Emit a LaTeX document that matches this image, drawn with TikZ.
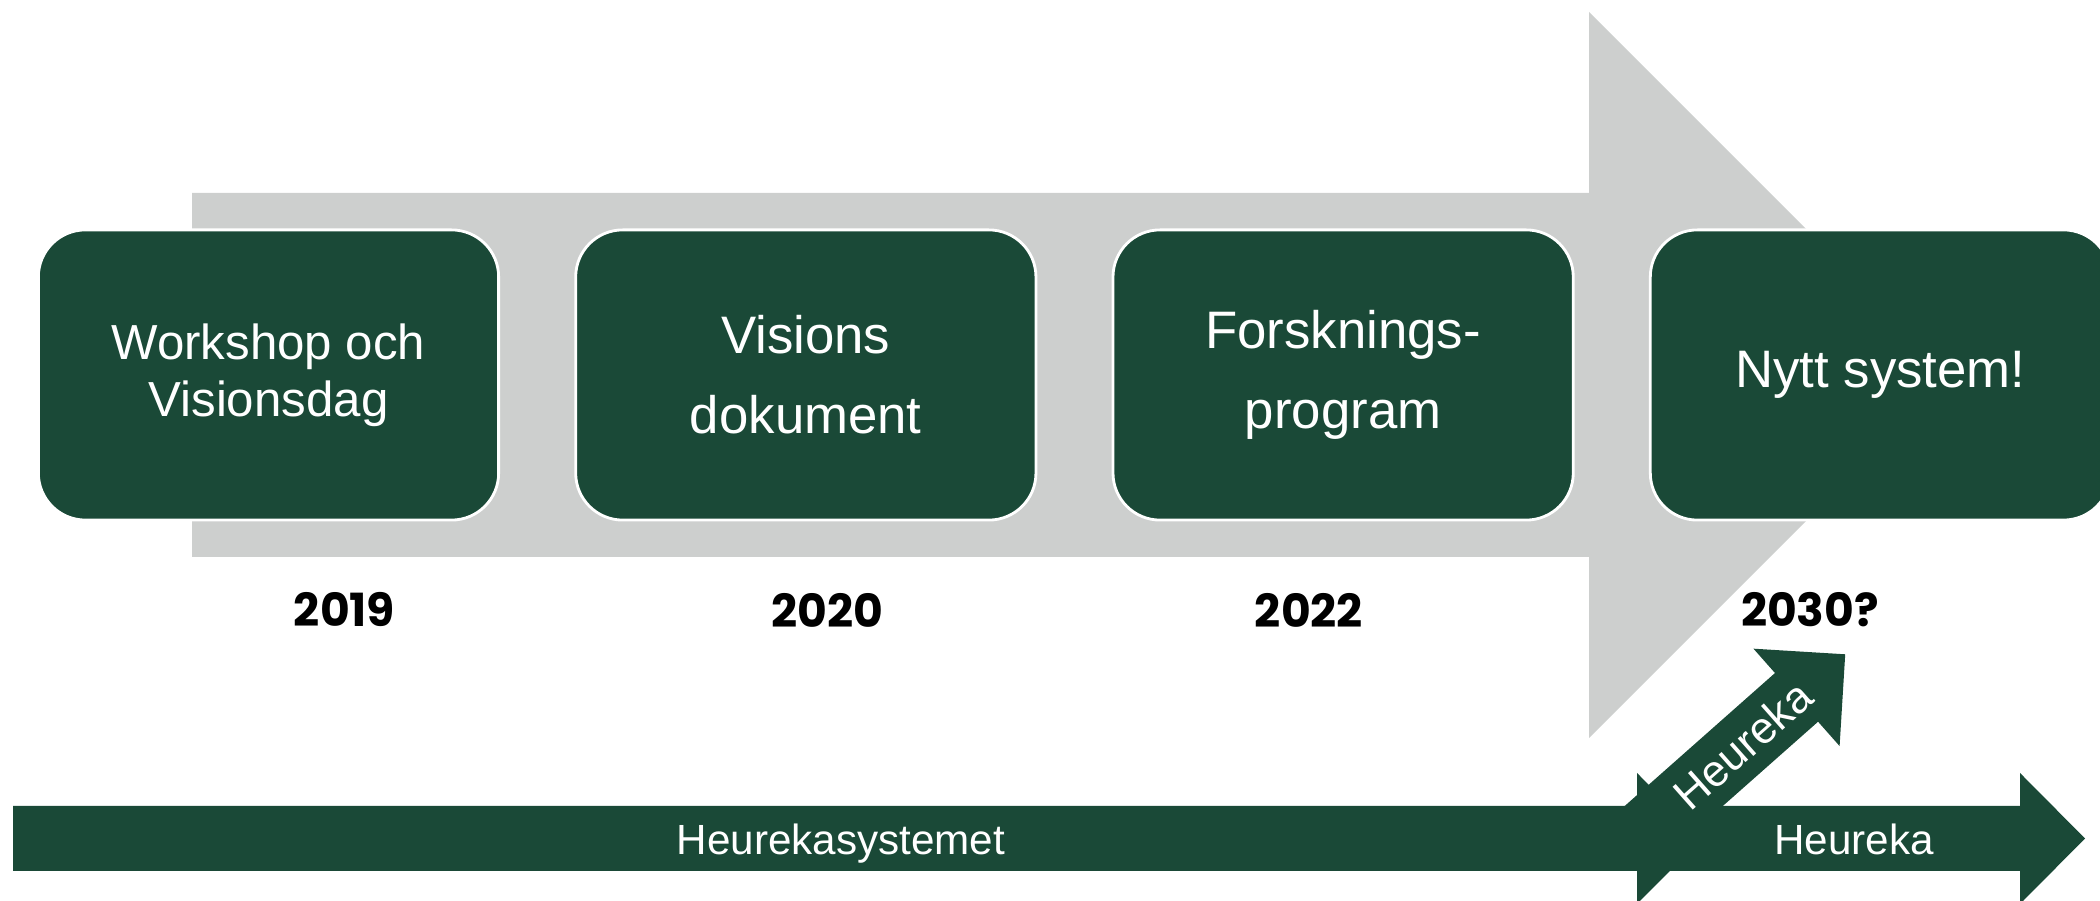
\documentclass[tikz,border=0pt]{standalone}
\usepackage{fontspec}
\setmainfont{Liberation Sans}
\newfontfamily\yearfont{Poppins}
\usetikzlibrary{positioning}
\definecolor{heurekagreen}{RGB}{26,73,55}
\definecolor{arrowgray}{RGB}{205,207,206}

\begin{document}
\begin{tikzpicture}[x=0.01cm,y=-0.01cm,
  stepbox/.style={fill=heurekagreen,draw=white,line width=0.8pt,rounded corners=0.47cm,
    minimum width=4.6cm,minimum height=2.9cm,inner sep=0pt,outer sep=0pt,text=white,align=center,
    font=\fontsize{15}{22.8}\selectfont},
  yearlabel/.style={font=\yearfont\bfseries\fontsize{13}{15}\selectfont},
  barlabel/.style={text=white,anchor=base,font=\fontsize{12}{14}\selectfont}]
% coordinates are pixels of the slide, y goes down
\useasboundingbox (0,0) rectangle (2100,901);
\clip (0,0) rectangle (2100,901);
\fill[arrowgray] (192,193) -- (1589,193) -- (1589,12) -- (1952,375) -- (1589,738)
     -- (1589,557) -- (192,557) -- cycle;

\node[stepbox,font=\fontsize{14}{16.2}\selectfont] (workshop) at (268.5,375) {Workshop och\\Visionsdag};
\node[stepbox,right=0.77cm of workshop] (vision) {Visions\\dokument};
\node[stepbox,right=0.77cm of vision] (research) {Forsknings-\\program};
\node[stepbox,right=0.77cm of research] (newsys) {Nytt system!};

\node[yearlabel] (y2019) at (344.5,610) {2019};
\node[yearlabel] (y2020) at (827,610) {2020};
\node[yearlabel] (y2022) at (1309,610) {2022};
\node[yearlabel] (y2030) at (1810,610) {2030?};

% old system, then the new one going on and going up
\fill[heurekagreen] (13,806) -- (1637,806) -- (1637,773) -- (1702,838.5) -- (1637,904)
     -- (1637,871) -- (13,871) -- cycle;
\fill[heurekagreen] (1637,806) -- (2020,806) -- (2020,773) -- (2085,838.5) -- (2020,904)
     -- (2020,871) -- (1637,871) -- cycle;
\begin{scope}[shift={(1637,838.5)},rotate=41.5]
  \fill[heurekagreen] (0,-32.5) -- (213,-32.5) -- (213,-65) -- (278,0) -- (213,65)
       -- (213,32.5) -- (0,32.5) -- cycle;
  \node[barlabel,anchor=center,rotate=41.5,font=\fontsize{12.6}{14}\selectfont] (hdiag) at (141,0) {Heureka};
\end{scope}
\node[barlabel] (hsys) at (841,855) {Heurekasystemet};
\node[barlabel] (hnew) at (1854,855) {Heureka};
\end{tikzpicture}
\end{document}
